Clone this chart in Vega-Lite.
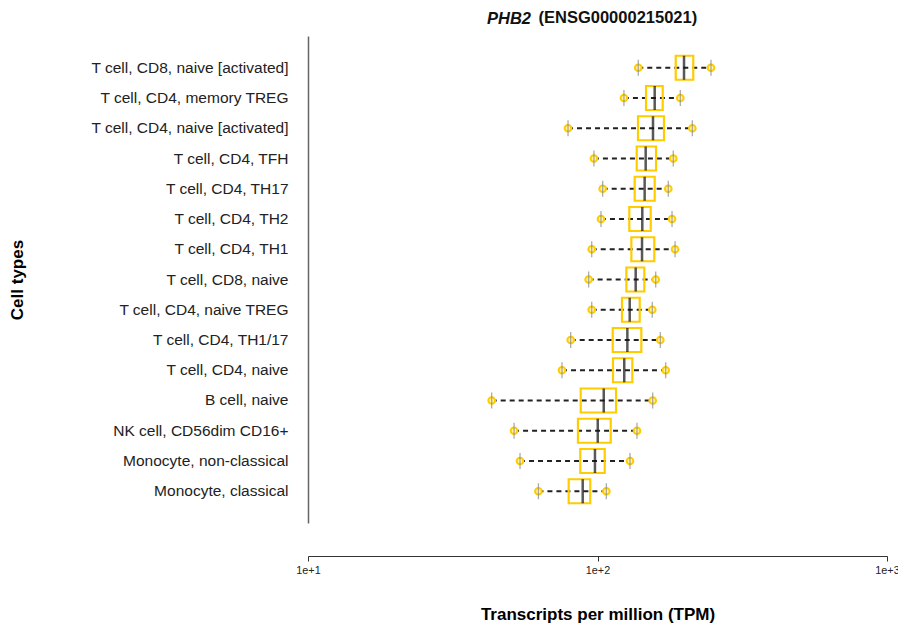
{
  "$schema": "https://vega.github.io/schema/vega-lite/v6.json",
  "autosize": "none",
  "width": 579,
  "height": 487,
  "padding": {"left": 308, "top": 36, "right": 11, "bottom": 102},
  "background": "white",
  "config": {
    "font": "Liberation Sans",
    "view": {"stroke": null}
  },
  "title": {
    "text": "PHB2",
    "fontStyle": "italic",
    "fontWeight": "bold",
    "fontSize": 16.5,
    "color": "#111",
    "anchor": "start",
    "frame": "group",
    "dx": 179,
    "offset": 0,
    "dy": 18
  },
  "data": {
    "values": [
      {"cell": "T cell, CD8, naive [activated]", "min": 138.3, "q1": 186.3, "median": 199, "q3": 214.2, "max": 246.6},
      {"cell": "T cell, CD4, memory TREG", "min": 123.4, "q1": 147.1, "median": 157.6, "q3": 168, "max": 193.2},
      {"cell": "T cell, CD4, naive [activated]", "min": 79.1, "q1": 138, "median": 155.5, "q3": 169.7, "max": 212.6},
      {"cell": "T cell, CD4, TFH", "min": 97.2, "q1": 136.6, "median": 146.7, "q3": 159.3, "max": 182.7},
      {"cell": "T cell, CD4, TH17", "min": 104.2, "q1": 134.4, "median": 145.5, "q3": 157.6, "max": 175.6},
      {"cell": "T cell, CD4, TH2", "min": 102.8, "q1": 128.8, "median": 142.8, "q3": 152.7, "max": 180.9},
      {"cell": "T cell, CD4, TH1", "min": 95.5, "q1": 130.9, "median": 142.5, "q3": 157.1, "max": 185.3},
      {"cell": "T cell, CD8, naive", "min": 93.2, "q1": 125.8, "median": 135.5, "q3": 145.1, "max": 158.9},
      {"cell": "T cell, CD4, naive TREG", "min": 95.5, "q1": 121.5, "median": 129.2, "q3": 139.9, "max": 154.6},
      {"cell": "T cell, CD4, TH1/17", "min": 80.8, "q1": 112.9, "median": 126.8, "q3": 141.7, "max": 164.8},
      {"cell": "T cell, CD4, naive", "min": 75.4, "q1": 113.1, "median": 123.7, "q3": 131.9, "max": 172.0},
      {"cell": "B cell, naive", "min": 43.1, "q1": 87.5, "median": 105.1, "q3": 115.9, "max": 155.1},
      {"cell": "NK cell, CD56dim CD16+", "min": 51.5, "q1": 85.6, "median": 100.2, "q3": 111.1, "max": 136.9},
      {"cell": "Monocyte, non-classical", "min": 54.0, "q1": 87.2, "median": 98.0, "q3": 105.9, "max": 129.5},
      {"cell": "Monocyte, classical", "min": 62.5, "q1": 79.5, "median": 88.9, "q3": 94.4, "max": 107.3}
    ]
  },
  "encoding": {
    "y": {
      "field": "cell",
      "type": "nominal",
      "sort": null,
      "scale": {"paddingInner": 0, "paddingOuter": 0.55},
      "axis": {
        "title": "Cell types",
        "titleFontSize": 17,
        "titleFontWeight": "bold",
        "titleColor": "#000",
        "titleX": -282,
        "labelFontSize": 15.5,
        "labelColor": "#222",
        "labelPadding": 20,
        "labelLimit": 400,
        "ticks": false,
        "domainColor": "#666",
        "domainWidth": 1.5
      }
    }
  },
  "layer": [
    {
      "mark": {"type": "rule", "strokeDash": [5, 4], "strokeWidth": 2, "color": "#222"},
      "encoding": {
        "x": {
          "field": "min",
          "type": "quantitative",
          "scale": {"type": "log", "domain": [10, 1000], "nice": false},
          "axis": {
            "orient": "bottom",
            "values": [10, 100, 1000],
            "labelExpr": "datum.value == 10 ? '1e+1' : (datum.value == 100 ? '1e+2' : '1e+3')",
            "labelFontSize": 10.8,
            "labelColor": "#222",
            "labelPadding": 3,
            "labelFlush": false,
            "labelOverlap": false,
            "labelBound": false,
            "tickSize": 5,
            "tickColor": "#333",
            "domainColor": "#333",
            "domainWidth": 1.2,
            "offset": 33,
            "grid": false,
            "title": "Transcripts per million (TPM)",
            "titleFontSize": 17,
            "titleFontWeight": "bold",
            "titleColor": "#000",
            "titlePadding": 32
          }
        },
        "x2": {"field": "max"}
      }
    },
    {
      "mark": {"type": "point", "shape": "circle", "filled": false, "fill": "#fff3b0", "stroke": "#FFCC00", "strokeWidth": 2, "size": 45, "opacity": 1},
      "encoding": {"x": {"field": "min", "type": "quantitative", "axis": null}}
    },
    {
      "mark": {"type": "point", "shape": "circle", "filled": false, "fill": "#fff3b0", "stroke": "#FFCC00", "strokeWidth": 2, "size": 45, "opacity": 1},
      "encoding": {"x": {"field": "max", "type": "quantitative", "axis": null}}
    },
    {
      "mark": {"type": "tick", "orient": "vertical", "color": "#888", "size": 16, "thickness": 1.3},
      "encoding": {"x": {"field": "min", "type": "quantitative", "axis": null}}
    },
    {
      "mark": {"type": "tick", "orient": "vertical", "color": "#888", "size": 16, "thickness": 1.3},
      "encoding": {"x": {"field": "max", "type": "quantitative", "axis": null}}
    },
    {
      "mark": {"type": "bar", "height": 24, "fill": "transparent", "stroke": "#FFCC00", "strokeWidth": 2.2},
      "encoding": {
        "x": {"field": "q1", "type": "quantitative", "axis": null},
        "x2": {"field": "q3"}
      }
    },
    {
      "mark": {"type": "tick", "orient": "vertical", "color": "#111", "size": 24, "thickness": 2.5},
      "encoding": {
        "x": {
          "field": "median",
          "type": "quantitative",
          "axis": {
            "orient": "top",
            "domain": false,
            "ticks": false,
            "labels": false,
            "grid": false,
            "title": "(ENSG00000215021)",
            "titleFontSize": 16.5,
            "titleFontWeight": "bold",
            "titleColor": "#111",
            "titleAnchor": "start",
            "titleAlign": "left",
            "titleX": 230,
            "titleY": -14,
            "titleBaseline": "alphabetic"
          }
        }
      }
    }
  ],
  "resolve": {"axis": {"x": "independent"}}
}
